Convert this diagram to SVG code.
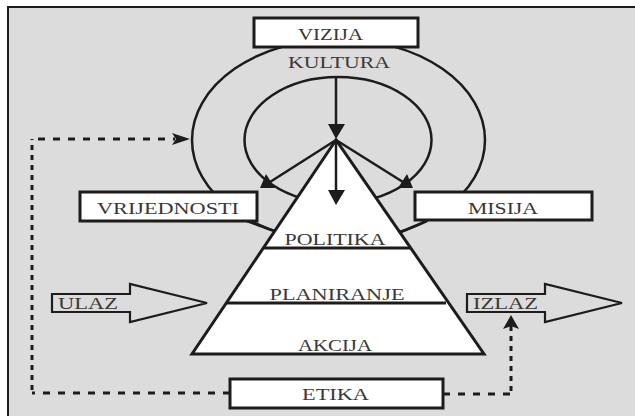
<svg xmlns="http://www.w3.org/2000/svg" width="635" height="416" viewBox="0 0 635 416">
<style>
.bg{fill:#dcdcdc}
.ln{fill:none;stroke:#1e1c1a;stroke-width:2.5}
.box{fill:#fff;stroke:#1e1c1a;stroke-width:3}
.tx{font-family:"Liberation Serif","Times New Roman",serif;font-size:16px;fill:#3a3836}
.dh{fill:none;stroke:#1e1c1a;stroke-width:3;stroke-dasharray:7 8}
.dv{fill:none;stroke:#1e1c1a;stroke-width:3;stroke-dasharray:5 5}
.ah{fill:#1e1c1a}
.big{fill:#dcdcdc;stroke:#1e1c1a;stroke-width:2.2}
</style>
<rect x="0" y="0" width="635" height="416" fill="#fff"/>
<rect class="bg" x="8" y="7" width="627" height="409"/>
<path d="M8 416 V7 H635" fill="none" stroke="#1e1c1a" stroke-width="2"/>

<g id="loops">
<ellipse class="ln" cx="338.5" cy="140" rx="146.5" ry="101"/>
<ellipse class="ln" cx="338" cy="140" rx="93.5" ry="63"/>
</g>

<g id="pyramid">
<polygon points="336,140 192,354 484,354" fill="#fff" stroke="#1e1c1a" stroke-width="3" stroke-linejoin="miter"/>
<line x1="264" y1="248" x2="410" y2="248" stroke="#1e1c1a" stroke-width="3"/>
<line x1="227" y1="303" x2="446" y2="303" stroke="#1e1c1a" stroke-width="3"/>
<text class="tx" x="335" y="245" text-anchor="middle" textLength="101" lengthAdjust="spacingAndGlyphs">POLITIKA</text>
<text class="tx" x="337" y="300" text-anchor="middle" textLength="135" lengthAdjust="spacingAndGlyphs">PLANIRANJE</text>
<text class="tx" x="335" y="351" text-anchor="middle" textLength="74" lengthAdjust="spacingAndGlyphs">AKCIJA</text>
</g>

<g id="connectors">
<line x1="336" y1="77" x2="336" y2="126" stroke="#1e1c1a" stroke-width="2.5"/>
<polygon class="ah" points="328,124 345,124 336,139"/>
<line x1="336" y1="140" x2="336" y2="192" stroke="#1e1c1a" stroke-width="2.5"/>
<polygon class="ah" points="328,190 345,190 336,205"/>
<line x1="336" y1="140" x2="270" y2="182" stroke="#1e1c1a" stroke-width="2.5"/>
<polygon class="ah" points="260,188 266,174 275,188"/>
<line x1="336" y1="140" x2="403" y2="182" stroke="#1e1c1a" stroke-width="2.5"/>
<polygon class="ah" points="413,188 398,188 407,174"/>
<line x1="247" y1="221" x2="274" y2="231" stroke="#1e1c1a" stroke-width="2.5"/>
<line x1="427" y1="221" x2="401" y2="232" stroke="#1e1c1a" stroke-width="2.5"/>
<path class="dh" d="M230 393 H32"/>
<path class="dv" d="M32 390 V139"/>
<path class="dh" d="M38 139 H175"/>
<polygon class="ah" points="190,139 172,133 176,139 172,145"/>
<path class="dh" d="M443 394 H511"/>
<path class="dv" d="M511 391 V326"/>
<polygon class="ah" points="511,315 503,329 511,326 519,329"/>
</g>

<g id="vizija">
<rect class="box" x="254" y="18" width="164" height="29"/>
<text class="tx" x="330.5" y="40" text-anchor="middle" textLength="65" lengthAdjust="spacingAndGlyphs">VIZIJA</text>
</g>
<g id="kultura">
<text class="tx" x="339" y="68" text-anchor="middle" textLength="102" lengthAdjust="spacingAndGlyphs">KULTURA</text>
</g>
<g id="vrijednosti">
<rect class="box" x="80" y="192" width="177" height="29"/>
<text class="tx" x="168" y="214" text-anchor="middle" textLength="142" lengthAdjust="spacingAndGlyphs">VRIJEDNOSTI</text>
</g>
<g id="misija">
<rect class="box" x="415" y="192" width="177" height="28"/>
<text class="tx" x="503" y="214" text-anchor="middle" textLength="70" lengthAdjust="spacingAndGlyphs">MISIJA</text>
</g>
<g id="ulaz">
<polygon class="big" points="52,294 130,294 130,284 207,303 130,322 130,312 52,312"/>
<text class="tx" x="58" y="309" textLength="60" lengthAdjust="spacingAndGlyphs">ULAZ</text>
</g>
<g id="izlaz">
<polygon class="big" points="467,294 545,294 545,284 622,303 545,322 545,312 467,312"/>
<text class="tx" x="473" y="309" textLength="65" lengthAdjust="spacingAndGlyphs">IZLAZ</text>
</g>
<g id="etika">
<rect class="box" x="230" y="379" width="213" height="29"/>
<text class="tx" x="335.5" y="400" text-anchor="middle" textLength="67" lengthAdjust="spacingAndGlyphs">ETIKA</text>
</g>
</svg>
